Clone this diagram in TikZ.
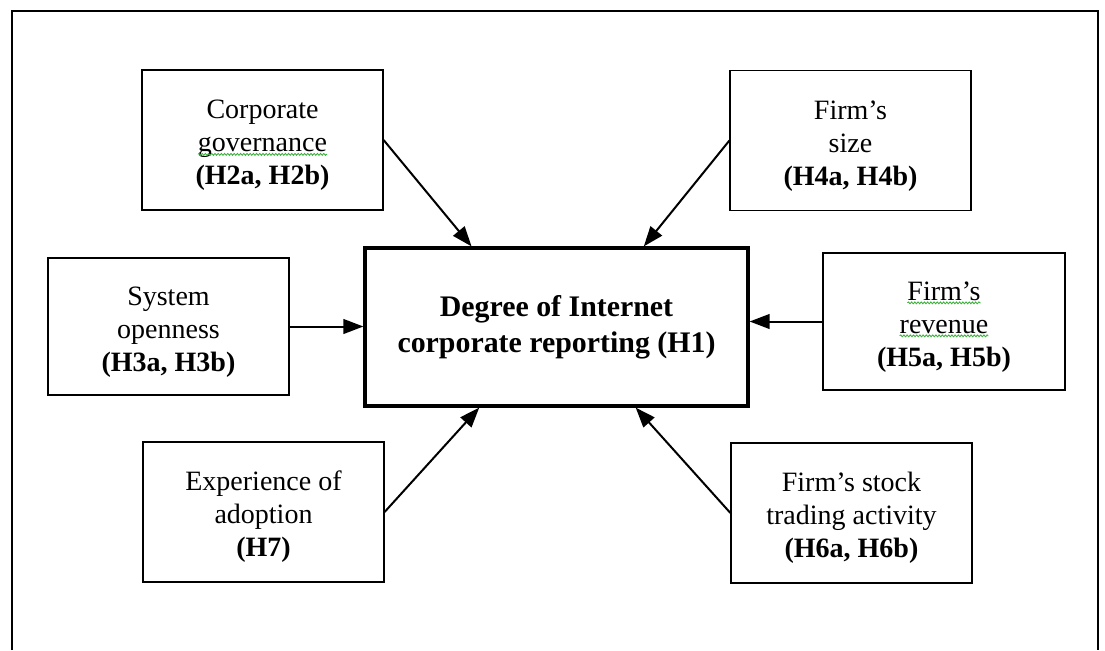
\documentclass[tikz,border=0pt]{standalone}
\usepackage{fontspec}
\setmainfont{Liberation Serif}
\usetikzlibrary{arrows.meta,calc,decorations.pathmorphing}
\definecolor{squig}{RGB}{60,175,60}
\newcommand\wavyword[1]{\tikz[baseline=(wv.base)]{\node[draw=none,fill=none,inner sep=0pt,outer sep=0pt,minimum width=0pt,minimum height=0pt] (wv) {#1};\draw[squig,line width=0.65pt,decorate,decoration={snake,amplitude=0.7pt,segment length=2.4pt}] ([yshift=-2pt]wv.base west) -- ([yshift=-2pt]wv.base east);}}
\newcommand\topgap{\rule{0pt}{22pt}}
\begin{document}
\begin{tikzpicture}[x=0.75pt,y=-0.75pt,
  box/.style={draw,line width=0.9pt,align=center,inner sep=0pt,
    minimum width={241*0.75pt},minimum height={140*0.75pt},
    font=\fontsize{21}{24.75}\selectfont},
  hub/.style={draw,line width=2.4pt,align=center,inner sep=0pt,
    minimum width={383*0.75pt},minimum height={158*0.75pt},
    font=\fontsize{22.4}{27}\selectfont\bfseries},
  link/.style={line width=1.5pt,-{Triangle[length=15pt,width=11pt]}}]
\useasboundingbox (0,0) rectangle (1105,650);
\draw[line width=0.8pt] (12,650) -- (12,11) -- (1098,11) -- (1098,650);

\node[hub] (c) at (556.5,327) {Degree of Internet\\corporate reporting (H1)};

\node[box] (cg) at (262.5,140) {\topgap Corporate\\\wavyword{governance}\\\textbf{(H2a, H2b)}};
\node[box] (sz) at (850.5,140.5) {\topgap Firm’s\\size\\\textbf{(H4a, H4b)}};
\node[box,minimum height={137*0.75pt}] (op) at (168.5,326.5) {\topgap System\\openness\\\textbf{(H3a, H3b)}};
\node[box,minimum width={242*0.75pt},minimum height={137*0.75pt}] (rv) at (944,321.5) {\topgap\wavyword{Firm’s}\\\wavyword{revenue}\\\textbf{(H5a, H5b)}};
\node[box] (ex) at (263.5,512) {\topgap Experience of\\adoption\\\textbf{(H7)}};
\node[box] (st) at (851.5,513) {\topgap Firm’s stock\\trading activity\\\textbf{(H6a, H6b)}};

\draw[link] (cg.east) -- ($(c.north west)!0.28!(c.north east)$);
\draw[link] (sz.west) -- ($(c.north west)!0.726!(c.north east)$);
\draw[link] (op.east) -- (c.west|-op.east);
\draw[link] (rv.west) -- (c.east|-rv.west);
\draw[link] (ex.east) -- ($(c.south west)!0.30!(c.south east)$);
\draw[link] (st.west) -- ($(c.south west)!0.705!(c.south east)$);
\end{tikzpicture}
\end{document}
